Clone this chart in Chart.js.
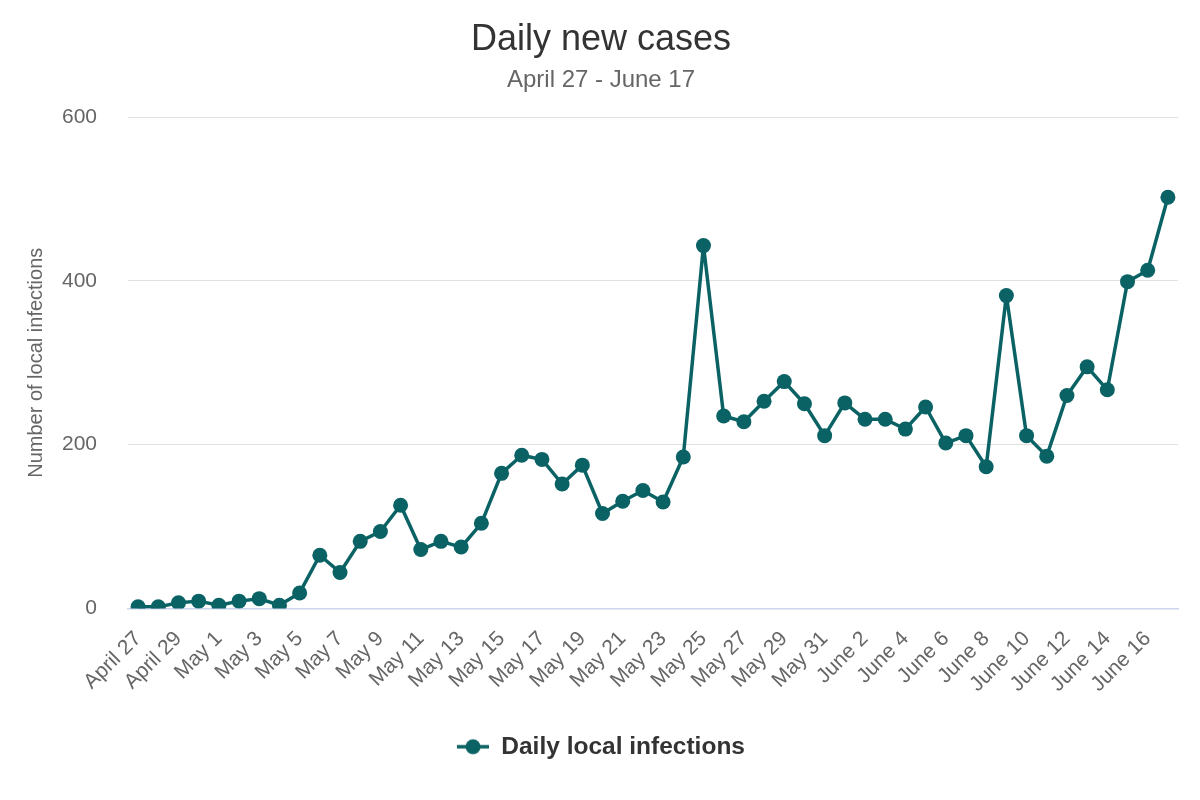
<!DOCTYPE html>
<html>
<head>
<meta charset="utf-8">
<script src="https://cdn.jsdelivr.net/npm/chart.js@4"></script>
<style>
  html, body { margin: 0; padding: 0; background: #fff; }
  #wrap { width: 1200px; height: 800px; }
</style>
</head>
<body>
<div id="wrap"><canvas id="chart" width="1200" height="800"></canvas></div>
<script>
"use strict";

// categorias (um ponto por dia)
var dayLabels = [
    "April 27", "April 28", "April 29", "April 30",
    "May 1", "May 2", "May 3", "May 4", "May 5", "May 6", "May 7", "May 8", "May 9", "May 10",
    "May 11", "May 12", "May 13", "May 14", "May 15", "May 16", "May 17", "May 18", "May 19", "May 20",
    "May 21", "May 22", "May 23", "May 24", "May 25", "May 26", "May 27", "May 28", "May 29", "May 30", "May 31",
    "June 1", "June 2", "June 3", "June 4", "June 5", "June 6", "June 7", "June 8", "June 9", "June 10",
    "June 11", "June 12", "June 13", "June 14", "June 15", "June 16", "June 17"
];

// valores
var dailyLocalInfections = [
    2, 2, 7, 9,
    4, 9, 12, 4, 19, 65, 44, 82, 94, 126,
    72, 82, 75, 104, 165, 187, 182, 152, 175, 116,
    131, 144, 130, 185, 443, 235, 228, 253, 277, 250, 211,
    251, 231, 231, 219, 246, 202, 211, 173, 382, 211,
    186, 260, 295, 267, 399, 413, 502
];

var yTicks = [0, 200, 400, 600];

var seriesName = "Daily local infections";
var lineColor = "#0a6264";
var fontFamily = "'Liberation Sans', Arial, sans-serif";

// simbolo da legenda: linha com bolinha
function legendSymbol() {
    var c = document.createElement("canvas");
    c.width = 32;
    c.height = 18;
    var g = c.getContext("2d");
    g.strokeStyle = lineColor;
    g.lineWidth = 3.5;
    g.beginPath();
    g.moveTo(0, 9);
    g.lineTo(32, 9);
    g.stroke();
    g.fillStyle = lineColor;
    g.beginPath();
    g.arc(16, 9, 7.5, 0, Math.PI * 2);
    g.fill();
    return c;
}

var symbol = legendSymbol();

var chart = new Chart(document.getElementById("chart"), {
    type: "line",
    data: {
        labels: dayLabels,
        datasets: [{
            label: seriesName,
            data: dailyLocalInfections,
            borderColor: lineColor,
            backgroundColor: lineColor,
            borderWidth: 3.5,
            borderJoinStyle: "round",
            borderCapStyle: "round",
            tension: 0,
            pointRadius: 7.5,
            pointHoverRadius: 7.5,
            pointBorderWidth: 0,
            pointBackgroundColor: lineColor
        }]
    },
    options: {
        responsive: false,
        devicePixelRatio: 1,
        animation: false,
        events: [],
        layout: {
            padding: { left: 24, right: 22, top: 0, bottom: 31 }
        },
        plugins: {
            title: {
                display: true,
                text: "Daily new cases",
                color: "#333333",
                font: { family: fontFamily, size: 36, weight: "normal" },
                padding: { top: 18, bottom: 0 }
            },
            subtitle: {
                display: true,
                text: "April 27 - June 17",
                color: "#666666",
                font: { family: fontFamily, size: 24, weight: "normal" },
                padding: { top: 5, bottom: 22 }
            },
            legend: {
                position: "bottom",
                labels: {
                    usePointStyle: true,
                    pointStyleWidth: 32,
                    padding: 10,
                    color: "#333333",
                    font: { family: fontFamily, size: 24.5, weight: "bold" },
                    generateLabels: function (ch) {
                        var items = Chart.defaults.plugins.legend.labels.generateLabels(ch);
                        items.forEach(function (it) { it.pointStyle = symbol; });
                        return items;
                    }
                }
            },
            tooltip: { enabled: false }
        },
        scales: {
            x: {
                offset: true,
                afterFit: function (scale) { scale.height = 116; },
                grid: { display: false, drawTicks: false },
                border: { display: true, color: "#ccd6eb", width: 1.5 },
                ticks: {
                    autoSkip: false,
                    minRotation: 45,
                    maxRotation: 45,
                    padding: 18,
                    color: "#666666",
                    font: { family: fontFamily, size: 21 },
                    callback: function (value, index) {
                        return index % 2 === 0 ? dayLabels[index] : null;
                    }
                }
            },
            y: {
                min: 0,
                max: 600,
                afterFit: function (scale) { scale.width = 104; },
                afterBuildTicks: function (scale) {
                    scale.ticks = yTicks.map(function (v) { return { value: v }; });
                },
                grid: {
                    drawTicks: false,
                    color: function (ctx) { return ctx.tick && ctx.tick.value === 0 ? "#ccd6eb" : "#e0e0e0"; },
                    lineWidth: 1
                },
                border: { display: false },
                ticks: {
                    padding: 31,
                    color: "#666666",
                    font: { family: fontFamily, size: 21 }
                },
                title: {
                    display: true,
                    text: "Number of local infections",
                    color: "#666666",
                    font: { family: fontFamily, size: 20, weight: "normal" },
                    padding: { top: 0, bottom: 0 }
                }
            }
        }
    }
});
</script>
</body>
</html>
